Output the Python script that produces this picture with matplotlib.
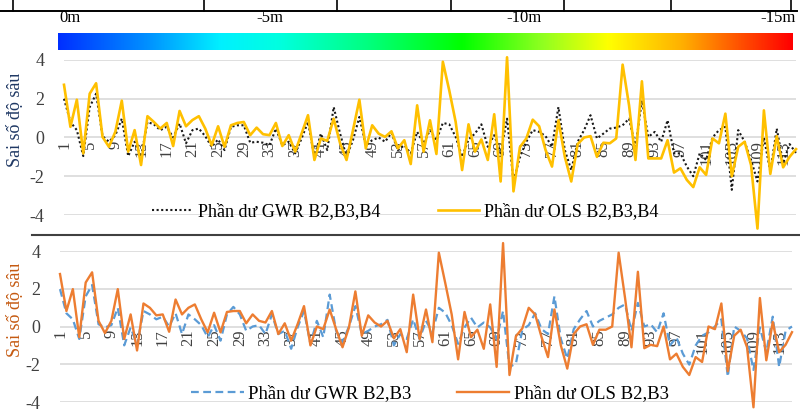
import numpy as np
import matplotlib
matplotlib.use("Agg")
import matplotlib.pyplot as plt
from matplotlib.colors import LinearSegmentedColormap
from matplotlib.lines import Line2D

plt.rcParams['font.family'] = ['Liberation Serif', 'DejaVu Serif']

# ---------------- data ----------------
points = list(range(1, 116))
tick_points = list(range(1, 116, 4))
depth_labels = ["0m", "-5m", "-10m", "-15m"]
y_ticks = [4, 2, 0, -2, -4]

gwr_b234 = [2.0, 0.8, 0.38, -0.96, 1.57, 2.26, 0.07, -0.22, 0.12, 0.97,
            -0.96, -0.22, -1.0, 0.8, 0.68, 0.38, 0.55, 0.0, 0.72, -0.3,
            0.38, 0.46, 0.07, -0.48, -0.1, -0.65, 0.55, 0.63, 0.63, -0.27,
            -0.22, -0.27, -0.4, 0.46, -0.4, -0.22, -0.82, -0.05, 0.8, -1.0,
            0.2, -0.65, 1.57, 0.2, -1.0, -0.14, 1.06, -0.4, -0.14, 0.0,
            -0.22, 0.24, -0.65, -0.4, -0.82, 0.29, -0.3, 0.38, -0.14, 0.75,
            0.68, 0.03, -1.0, -0.1, 0.2, 0.68, -0.48, 0.12, -0.82, 0.97,
            -2.27, -1.0, -0.22, 0.38, 0.29, 0.07, -0.48, 1.57, -0.65, -1.68,
            -0.22, 0.38, 1.15, -0.05, 0.2, 0.46, 0.51, 0.63, 0.97, -0.48,
            1.91, 0.03, 0.29, -0.22, 0.89, -0.82, -0.82, -1.5, -2.0, -0.82,
            -1.16, 0.0, 0.38, 0.55, -2.7, 0.38, -0.22, -1.16, -2.27, 0.0,
            -1.76, 0.46, -1.33, -0.34, -0.8]

ols_b234 = [2.72, 0.55, 1.95, -0.82, 2.26, 2.8, 0.03, -0.48, 0.3, 1.9,
            -0.73, 0.38, -1.42, 1.1, 0.8, 0.46, 0.75, -0.44, 1.37, 0.58,
            0.9, 1.1, 0.46, -0.4, 0.58, -0.48, 0.63, 0.75, 0.8, 0.12,
            0.51, 0.17, 0.12, 0.75, -0.44, 0.12, -0.73, 0.2, 1.15, -1.16,
            -0.05, -0.17, 0.97, -0.3, -1.16, 0.37, 1.95, -0.56, 0.63, 0.2,
            0.03, 0.32, -0.56, -0.14, -1.37, 1.66, -0.73, 0.89, -0.85, 3.91,
            2.43, 0.8, -1.68, 0.68, -0.73, -0.1, -1.16, 1.2, -2.27, 4.14,
            -2.78, -0.5, -0.05, 0.92, 0.58, -0.65, -1.5, 0.89, -1.0, -2.27,
            -0.34, 0.0, 0.07, -1.0, -0.27, -0.3, -0.05, 3.76, 1.66, -1.16,
            2.9, -1.08, -1.08, -1.08, -0.14, -1.81, -1.59, -2.19, -2.56, -1.54,
            -1.93, -0.05, -0.3, 1.23, -2.0, -0.48, -0.22, -1.42, -4.7, 1.4,
            -1.88, 0.07, -1.54, -1.0, -0.6]

gwr_b23 = [1.98, 0.7, 0.38, -0.66, 1.6, 2.2, 0.12, -0.05, 0.07, 0.99,
           -1.0, -0.05, -0.97, 0.82, 0.64, 0.38, 0.52, 0.0, 0.7, -0.4,
           0.64, 0.38, 0.07, -0.57, 0.07, -0.75, 0.64, 1.04, 0.64, -0.23,
           0.0, 0.07, -0.4, 0.64, -0.4, -0.23, -1.18, -0.05, 0.82, -0.92,
           0.3, -0.57, 1.69, -0.23, -0.83, 0.0, 1.08, -0.4, -0.23, 0.0,
           0.12, 0.35, -1.0, -0.4, -0.66, 0.38, -0.66, 0.3, -0.31, 0.99,
           0.73, 0.07, -0.92, -0.05, 0.47, -0.05, 0.21, -0.05, -0.66, 0.82,
           -2.14, -1.97, -0.17, 0.07, 0.7, -0.14, -0.4, 1.6, -0.66, -1.7,
           -0.14, 0.38, 0.82, 0.0, 0.3, 0.47, 0.64, 0.99, 1.17, -0.23,
           1.25, 0.0, 0.12, -0.31, 0.7, -1.0, -0.57, -1.44, -2.02, -1.0,
           -0.49, -0.31, 0.0, 0.38, -2.66, 0.0, -0.23, -0.63, -2.3, -0.05,
           -1.36, 0.52, -2.14, -0.23, 0.0]

ols_b23 = [2.78, 0.82, 1.98, -0.57, 2.33, 2.87, 0.3, -0.35, 0.3, 1.98,
           -0.66, 0.64, -1.27, 1.22, 0.99, 0.59, 0.64, -0.28, 1.43, 0.64,
           0.99, 1.17, 0.38, -0.31, 0.73, -0.31, 0.77, 0.82, 0.82, 0.17,
           0.64, 0.3, 0.21, 0.82, -0.4, 0.17, -0.75, 0.12, 1.08, -1.0,
           0.0, -0.14, 0.9, -0.14, -1.1, -0.05, 1.86, -0.49, 0.59, 0.21,
           0.0, 0.3, -0.63, -0.14, -1.36, 1.69, -0.66, 0.9, -0.83, 3.91,
           2.3, 0.64, -1.74, 0.77, -0.57, -0.17, -1.18, 1.17, -2.14, 4.42,
           -2.57, -0.52, -0.1, 0.99, 0.64, -0.57, -1.62, 0.9, -1.0, -2.23,
           -0.4, 0.0, 0.12, -0.97, -0.17, -0.17, 0.0, 3.91, 1.51, -1.1,
           2.9, -1.15, -0.97, -1.04, 0.0, -1.74, -1.44, -2.14, -2.57, -1.62,
           -1.88, 0.0, -0.14, 1.22, -2.37, -0.49, -0.17, -1.1, -4.28, 1.51,
           -1.79, 0.24, -1.36, -0.97, -0.3]

# ---------------- figure ----------------
W, H = 800, 411
fig = plt.figure(figsize=(W / 100, H / 100), dpi=100)
fig.patch.set_facecolor('white')

def fx(px):
    return px / W

def fy(py):
    return 1 - py / H

# header table border
fig.add_artist(Line2D([fx(0), fx(797)], [fy(11), fy(11)], color='black', lw=1.4))
for xv in [13, 204, 337, 451, 564, 671, 791]:
    fig.add_artist(Line2D([fx(xv), fx(xv)], [fy(0), fy(11)], color='black', lw=1.2))

# colour bar
cmap = LinearSegmentedColormap.from_list('depth', [
    (0.0, '#0030FF'), (0.12, '#0090FF'), (0.22, '#00F0FF'), (0.3, '#00FFE0'),
    (0.42, '#00FF80'), (0.55, '#00FF00'), (0.66, '#90FF20'), (0.75, '#FFFF00'),
    (0.85, '#FFB000'), (0.93, '#FF5000'), (1.0, '#FF0000')])
cax = fig.add_axes([fx(58), fy(50), fx(793) - fx(58), fy(33) - fy(50)])
cax.imshow(np.linspace(0, 1, 256)[None, :], aspect='auto', cmap=cmap)
cax.set_axis_off()
label_x = [(59, 'left'), (270, 'center'), (524, 'center'), (796, 'right')]
for lab, (xv, ha) in zip(depth_labels, label_x):
    fig.text(fx(xv), fy(18), lab, ha=ha, va='center', fontsize=12, color='black')

# divider between panels
fig.add_artist(Line2D([fx(32), fx(800)], [fy(235), fy(235)], color='#404040', lw=1.5))

def setup(ax, x0, x1, ytop, ybot):
    ax.set_position([fx(x0), fy(ybot), fx(x1) - fx(x0), fy(ytop) - fy(ybot)])
    ax.set_xlim(points[0], points[-1])
    ax.set_ylim(-4, 4)
    ax.set_yticks(y_ticks)
    ax.set_yticklabels([str(v) for v in y_ticks])
    ax.set_xticks([])
    for s in ax.spines.values():
        s.set_visible(False)
    ax.grid(axis='y', color='#D9D9D9', lw=1.2)
    ax.set_axisbelow(True)
    ax.tick_params(axis='y', length=0, pad=14, labelsize=13, labelcolor='#404040')
    ax.set_facecolor('none')
    for t in tick_points:
        ax.annotate(str(t), xy=(t, 0), xytext=(0, -2), textcoords='offset points',
                    rotation=90, ha='center', va='top', fontsize=12,
                    color='#404040', zorder=1)

# top panel
ax1 = fig.add_axes([0, 0, 1, 1])
setup(ax1, 64, 796, 60, 215)
l1, = ax1.plot(points, gwr_b234, color='#1a1a1a', lw=1.5, ls=(0, (1, 1.2)),
               zorder=3, clip_on=False)
l2, = ax1.plot(points, ols_b234, color='#FFC000', lw=1.9, zorder=4, clip_on=False)
fig.text(fx(16), fy(120), 'Sai số độ sâu', rotation=90, ha='center', va='center',
         fontsize=13, color='#1F3864')
fig.legend([l1, l2], ['Phần dư GWR B2,B3,B4', 'Phần dư OLS B2,B3,B4'],
           loc='center', bbox_to_anchor=(fx(405), fy(212)), ncol=2, frameon=False,
           fontsize=13, handlelength=2.3, handletextpad=0.25, columnspacing=3.2)

# bottom panel
ax2 = fig.add_axes([0, 0, 0.5, 0.5])
setup(ax2, 60, 792, 251, 402)
l3, = ax2.plot(points, gwr_b23, color='#5B9BD5', lw=1.6, ls=(0, (3.5, 2)),
               zorder=3, clip_on=False)
l4, = ax2.plot(points, ols_b23, color='#ED7D31', lw=1.7, zorder=4, clip_on=False)
fig.text(fx(16), fy(310), 'Sai số độ sâu', rotation=90, ha='center', va='center',
         fontsize=13, color='#C55A11')
fig.legend([l3, l4], ['Phần dư GWR B2,B3', 'Phần dư OLS B2,B3'],
           loc='center', bbox_to_anchor=(fx(430), fy(394)), ncol=2, frameon=False,
           fontsize=13.5, handlelength=2.8, handletextpad=0.25, columnspacing=2.4)

fig.savefig('out.png', dpi=100, facecolor='white')
